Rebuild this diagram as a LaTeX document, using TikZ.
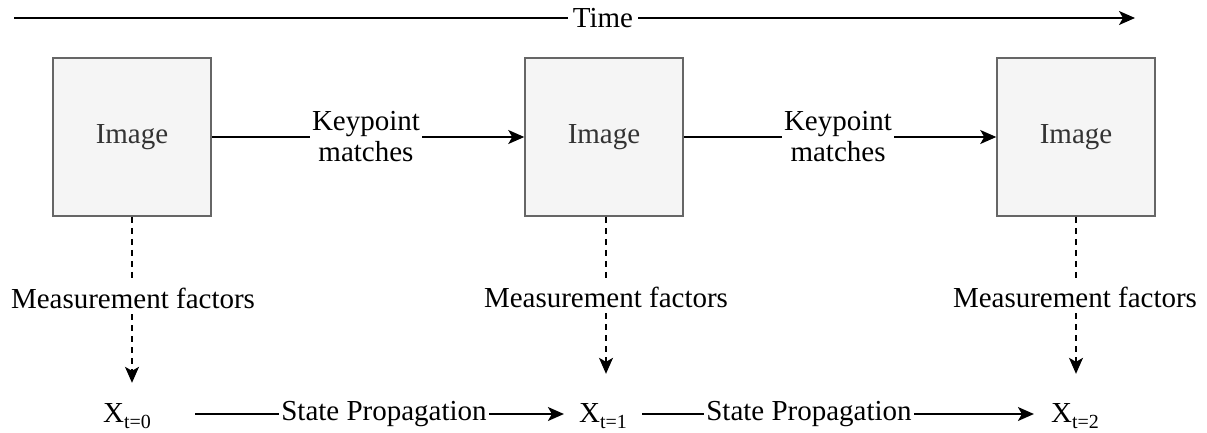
\documentclass[tikz,border=0pt]{standalone}
\usepackage{fontspec}
\setmainfont{Liberation Serif}
\usetikzlibrary{arrows.meta}

\definecolor{boxfill}{HTML}{F5F5F5}
\definecolor{boxline}{HTML}{666666}
\definecolor{boxtext}{HTML}{333333}

\newcommand{\statevar}[1]{X\raisebox{-6pt}{\fontsize{20}{20}\selectfont #1}}

\begin{document}
\begin{tikzpicture}[x=1pt,y=-1pt,
  every node/.style={font=\fontsize{29}{31}\selectfont},
  tip/.style={-{Stealth[length=16pt,width=14pt,inset=4pt]}},
  arr/.style={tip,line width=1.5pt,black},
  dasharr/.style={arr,dash pattern=on 6pt off 5pt},
  dashline/.style={line width=1.5pt,dash pattern=on 6pt off 5pt},
  imgbox/.style={draw=boxline,fill=boxfill,line width=1.5pt,minimum size=158pt,
                 inner sep=0pt,text=boxtext},
  lbl/.style={fill=white,inner xsep=2pt,inner ysep=1pt,align=center},
  mlbl/.style={fill=white,inner xsep=2pt,inner ysep=6pt,anchor=base},
  state/.style={inner sep=0pt,anchor=base}]

\useasboundingbox (0,0) rectangle (1207,432);

% time axis
\coordinate (t0) at (14,18);
\coordinate (t1) at (1135,18);
\draw[arr] (t0) -- (t1);
\node[lbl,inner xsep=5pt] (time) at (603,18) {Time};

% image frames
\node[imgbox] (I0) at (132,137) {Image};
\node[imgbox] (I1) at (604,137) {Image};
\node[imgbox] (I2) at (1076,137) {Image};

\draw[arr] (I0) -- (I1);
\draw[arr] (I1) -- (I2);
\node[lbl] (k0) at (366,137) {Keypoint\\matches};
\node[lbl] (k1) at (838,137) {Keypoint\\matches};

% measurement factor labels
\node[mlbl] (m0) at (133,308) {Measurement factors};
\node[mlbl] (m1) at (606,307) {Measurement factors};
\node[mlbl] (m2) at (1075,307) {Measurement factors};

% states
\node[state] (X0) at (127,422) {\statevar{t=0}};
\node[state] (X1) at (603,422) {\statevar{t=1}};
\node[state] (X2) at (1075,422) {\statevar{t=2}};

% measurement connectors
\draw[dashline] (I0.south) -- (I0.south |- m0.north);
\draw[dashline] (I1.south -| m1) -- (m1.north);
\draw[dashline] (I2.south) -- (I2.south |- m2.north);
\draw[dasharr,shorten >=20pt] (I0.south |- m0.south) -- (I0.south |- X0.north);
\draw[dasharr,shorten >=29pt] (m1.south) -- (m1.south |- X1.north);
\draw[dasharr,shorten >=29pt] (I2.south |- m2.south) -- (I2.south |- X2.north);

% state propagation connectors with their labels on top
\coordinate (pc0) at (384,414);
\coordinate (pc1) at (809,414);
\draw[arr,shorten <=44pt,shorten >=15pt] (X0.east |- pc0) -- (X1.west |- pc0);
\draw[arr,shorten <=15pt,shorten >=17pt] (X1.east |- pc1) -- (X2.west |- pc1);
\node[lbl] (p0) at (pc0) {State Propagation};
\node[lbl] (p1) at (pc1) {State Propagation};

\end{tikzpicture}
\end{document}
